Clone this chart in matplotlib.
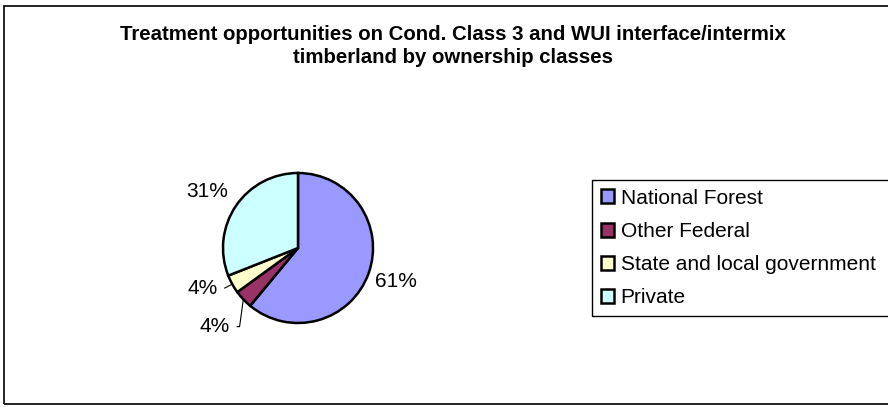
import numpy as np
import matplotlib.pyplot as plt
from matplotlib.patches import Rectangle

plt.rcParams['font.family'] = ['Liberation Sans', 'DejaVu Sans']

# data
categories = ['National Forest', 'Other Federal', 'State and local government', 'Private']
shares = [61, 4, 4, 31]
colors = ['#9999FF', '#993366', '#FFFFCC', '#CCFFFF']
title = 'Treatment opportunities on Cond. Class 3 and WUI interface/intermix\ntimberland by ownership classes'

W, H = 888, 407
fig = plt.figure(figsize=(W / 100, H / 100), dpi=100)

# outer chart border (right side runs off the picture)
fig.patches.append(Rectangle((4 / W, 3 / H), 900 / W, 398 / H, transform=fig.transFigure,
                             fill=False, edgecolor='black', linewidth=1.2))

fig.text(453 / W, 1 - 46 / H, title, ha='center', va='center', fontsize=14.7,
         fontweight='bold', linespacing=1.3)

# pie axes: center at (298, 248) px, radius 75 px
r_px = 75
size_px = 4 * r_px
ax = fig.add_axes([(298 - size_px / 2) / W, (H - 248 - size_px / 2) / H, size_px / W, size_px / H])
wedges, _ = ax.pie(shares, colors=colors, startangle=90, counterclock=False,
                   wedgeprops=dict(edgecolor='black', linewidth=1.8))
ax.set_xlim(-2, 2)
ax.set_ylim(-2, 2)
ax.set_aspect('equal')
ax.axis('off')

# labels: radial distance, plus offsets for the small slices with leader lines
label_r = [1.37, 1.4, 1.4, 1.43]
label_off = [(0.02, 0.02), (-0.09, -0.09), (-0.05, 0.14), (-0.03, -0.05)]
for i, w in enumerate(wedges):
    ang = np.deg2rad((w.theta1 + w.theta2) / 2)
    ex, ey = np.cos(ang), np.sin(ang)
    tx = label_r[i] * ex + label_off[i][0]
    ty = label_r[i] * ey + label_off[i][1]
    ax.text(tx, ty, f'{shares[i]}%', ha='center', va='center', fontsize=15, clip_on=False)
    if shares[i] < 10:
        if i == 1:
            pts = [(ex, ey), (ex - 0.05, ty), (tx + 0.3, ty)]
        else:
            pts = [(ex, ey), (tx + 0.3, ty)]
        xs, ys = zip(*pts)
        ax.plot(xs, ys, color='black', linewidth=0.8, clip_on=False)

leg = fig.legend(wedges, categories, loc='upper left',
                 bbox_to_anchor=(592 / W, 1 - 180 / H, 320 / W, 0), mode='expand',
                 fontsize=15, frameon=True, fancybox=False, edgecolor='black', framealpha=1,
                 handlelength=0.65, handleheight=0.65, handletextpad=0.3, borderpad=0.42,
                 labelspacing=0.68, borderaxespad=0)
leg.get_frame().set_linewidth(1.0)

fig.savefig('out.png', dpi=100)
